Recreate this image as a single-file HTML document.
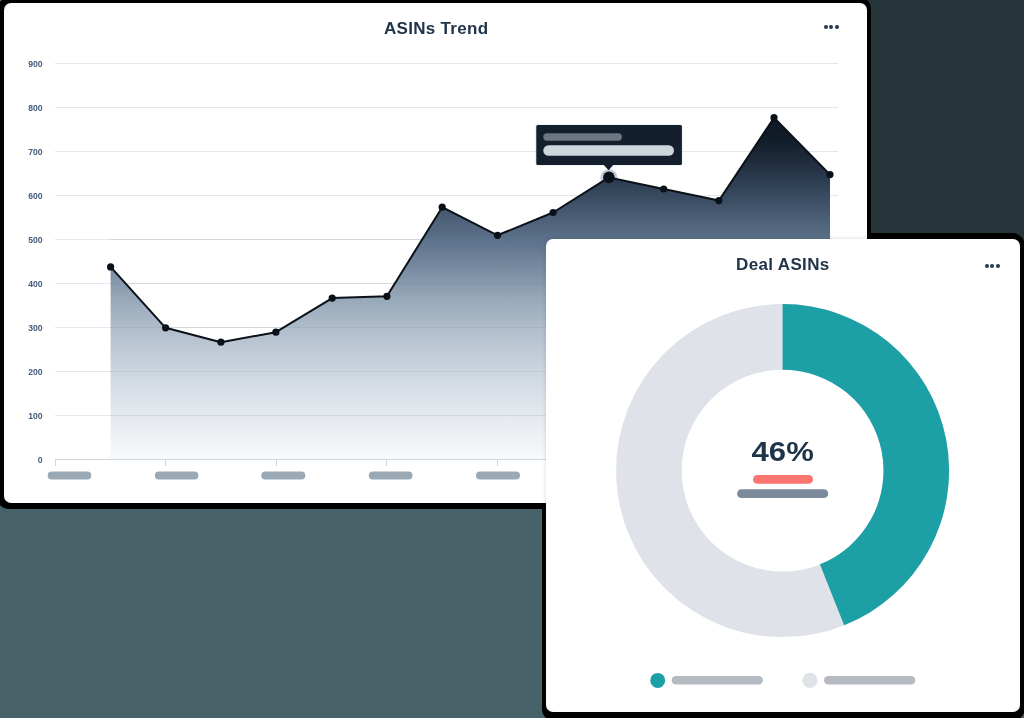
<!DOCTYPE html>
<html>
<head>
<meta charset="utf-8">
<style>
html,body{margin:0;padding:0;}
body{width:1024px;height:718px;position:relative;overflow:hidden;-webkit-font-smoothing:antialiased;background:rgb(71,98,105);font-family:"Liberation Sans",sans-serif;}
.abs{position:absolute;}
#bgA{left:866px;top:0;width:158px;height:252px;background:rgb(38,53,57);}
.sh{background:#000;}
#sh1{left:-2px;top:-2px;width:873px;height:511px;border-radius:10px;}
#sh2{left:542px;top:233px;width:483px;height:488px;border-radius:11px 13px 13px 12px;}
#card1{left:4px;top:3px;width:863px;height:499.5px;background:#fff;border-radius:7px;}
#card2{left:546px;top:239px;width:473.5px;height:472.75px;background:#fff;border-radius:7px;box-shadow:0 0 4px rgba(20,30,45,0.18);}
.title{font-weight:bold;color:#21344a;font-size:17px;white-space:nowrap;}
.dots{display:flex;gap:1.7px;}
.dots i{display:block;width:3.8px;height:3.8px;border-radius:50%;background:#263a50;}
svg{position:absolute;left:0;top:0;will-change:transform;}
.title,.dots{will-change:transform;}
.ylab{font-size:8.6px;fill:#415c7a;font-weight:bold;}
.pill{position:absolute;border-radius:5px;}
</style>
</head>
<body>
<div id="bgA" class="abs"></div>
<div id="sh1" class="abs sh"></div>
<div id="sh2" class="abs sh"></div>
<div id="card1" class="abs"></div>

<div class="abs title" style="left:383.5px;top:18.8px;letter-spacing:0.3px;">ASINs Trend</div>
<div class="abs dots" style="left:823.8px;top:25.1px;"><i></i><i></i><i></i></div>

<svg width="1024" height="718" viewBox="0 0 1024 718">
  <defs>
    <linearGradient id="g" gradientUnits="userSpaceOnUse" x1="0" y1="117" x2="0" y2="459">
      <stop offset="0" stop-color="rgb(15, 24, 35)"/>
      <stop offset="0.067" stop-color="rgb(18, 29, 42)"/>
      <stop offset="0.126" stop-color="rgb(30, 43, 59)"/>
      <stop offset="0.184" stop-color="rgb(44, 61, 80)"/>
      <stop offset="0.243" stop-color="rgb(60, 78, 100)"/>
      <stop offset="0.301" stop-color="rgb(77, 97, 121)"/>
      <stop offset="0.36" stop-color="rgb(92, 113, 138)"/>
      <stop offset="0.462" stop-color="rgb(126, 145, 166)"/>
      <stop offset="0.535" stop-color="rgb(152, 169, 186)"/>
      <stop offset="0.623" stop-color="rgb(177, 190, 204)"/>
      <stop offset="0.74" stop-color="rgb(204, 213, 222)"/>
      <stop offset="0.857" stop-color="rgb(226, 231, 237)"/>
      <stop offset="0.974" stop-color="rgb(244, 246, 248)"/>
      <stop offset="1" stop-color="rgb(248, 249, 250)"/>
    </linearGradient>
  </defs>
  <!-- grid -->
  <g stroke="#e3e8ee" stroke-width="1">
    <line x1="55" y1="63.5" x2="838" y2="63.5"/>
    <line x1="55" y1="107.5" x2="838" y2="107.5"/>
    <line x1="55" y1="151.5" x2="838" y2="151.5"/>
    <line x1="55" y1="195.5" x2="838" y2="195.5"/>
    <line x1="55" y1="239.5" x2="838" y2="239.5"/>
    <line x1="55" y1="283.5" x2="838" y2="283.5"/>
    <line x1="55" y1="327.5" x2="838" y2="327.5"/>
    <line x1="55" y1="371.5" x2="838" y2="371.5"/>
    <line x1="55" y1="415.5" x2="838" y2="415.5"/>
  </g>
  <g class="ylab" text-anchor="end">
    <text x="42.5" y="66.5">900</text>
    <text x="42.5" y="110.5">800</text>
    <text x="42.5" y="154.5">700</text>
    <text x="42.5" y="198.5">600</text>
    <text x="42.5" y="242.5">500</text>
    <text x="42.5" y="286.5">400</text>
    <text x="42.5" y="330.5">300</text>
    <text x="42.5" y="374.5">200</text>
    <text x="42.5" y="418.5">100</text>
    <text x="42.5" y="462.5">0</text>
  </g>
  <circle cx="608.9" cy="177.6" r="8.6" fill="#b9c6d3" opacity="0.9"/>
  <!-- area -->
  <path fill="url(#g)" d="M110.6,459.5 L110.6,266.9 L165.6,327.8 L220.9,342.2 L275.9,332.2 L332.2,298.1 L386.9,296.3 L442.2,207.2 L497.5,235.3 L553.1,212.5 L608.9,177.4 L663.7,189 L718.9,200.6 L774,117.7 L830,174.6 L830,459.5 Z"/>
  <!-- grid lines over area (faint) -->
  <g stroke="rgb(110,130,150)" stroke-opacity="0.16" stroke-width="1">
    <line x1="110" y1="239.5" x2="830" y2="239.5"/>
    <line x1="110" y1="283.5" x2="830" y2="283.5"/>
    <line x1="110" y1="327.5" x2="830" y2="327.5"/>
    <line x1="110" y1="371.5" x2="830" y2="371.5"/>
    <line x1="110" y1="415.5" x2="830" y2="415.5"/>
  </g>
  <!-- axis -->
  <line x1="55" y1="459.5" x2="838" y2="459.5" stroke="#cdd7e1" stroke-width="1"/>
  <g stroke="#cdd7e1" stroke-width="1">
    <line x1="55.5" y1="459" x2="55.5" y2="466"/>
    <line x1="165.5" y1="459" x2="165.5" y2="466"/>
    <line x1="276.5" y1="459" x2="276.5" y2="466"/>
    <line x1="386.5" y1="459" x2="386.5" y2="466"/>
    <line x1="497.5" y1="459" x2="497.5" y2="466"/>
  </g>
  <!-- x pills -->
  <g fill="#9aa9b6">
    <rect x="47.7" y="471.5" width="43.6" height="8" rx="4"/>
    <rect x="154.8" y="471.5" width="43.6" height="8" rx="4"/>
    <rect x="261.3" y="471.5" width="44" height="8" rx="4"/>
    <rect x="368.8" y="471.5" width="43.7" height="8" rx="4"/>
    <rect x="476" y="471.5" width="44" height="8" rx="4"/>
  </g>
  <!-- line -->
  <polyline fill="none" stroke="#0b1119" stroke-width="2" stroke-linejoin="round" points="110.6,266.9 165.6,327.8 220.9,342.2 275.9,332.2 332.2,298.1 386.9,296.3 442.2,207.2 497.5,235.3 553.1,212.5 608.9,177.4 663.7,189 718.9,200.6 774,117.7 830,174.6"/>
  <g fill="#0b1119">
    <circle cx="110.6" cy="266.9" r="3.6"/>
    <circle cx="165.6" cy="327.8" r="3.6"/>
    <circle cx="220.9" cy="342.2" r="3.6"/>
    <circle cx="275.9" cy="332.2" r="3.6"/>
    <circle cx="332.2" cy="298.1" r="3.6"/>
    <circle cx="386.9" cy="296.3" r="3.6"/>
    <circle cx="442.2" cy="207.2" r="3.6"/>
    <circle cx="497.5" cy="235.3" r="3.6"/>
    <circle cx="553.1" cy="212.5" r="3.6"/>
    <circle cx="663.7" cy="189" r="3.6"/>
    <circle cx="718.9" cy="200.6" r="3.6"/>
    <circle cx="774" cy="117.7" r="3.6"/>
    <circle cx="830" cy="174.6" r="3.6"/>
  </g>
  <circle cx="608.9" cy="177.4" r="5.8" fill="#0b1119"/>
  <!-- tooltip -->
  <g>
    <rect x="535.5" y="124.5" width="147" height="41" rx="2" fill="#a9b8c6" opacity="0.35"/>
    <rect x="536.3" y="125" width="145.6" height="39.9" rx="1.5" fill="#131f2c"/>
    <path d="M603.4,164.5 L613.6,164.5 L608.6,170.3 Z" fill="#131f2c"/>
    <rect x="543.3" y="133.3" width="78.6" height="7.4" rx="3.7" fill="#6b7681"/>
    <rect x="543.3" y="145.3" width="130.7" height="10.5" rx="5.25" fill="#cdd5dd"/>
  </g>
</svg>

<div id="card2" class="abs">
  <div class="abs title" style="left:189.6px;top:16px;letter-spacing:0.35px;">Deal ASINs</div>
  <div class="abs dots" style="left:438.8px;top:24.8px;"><i></i><i></i><i></i></div>
</div>

<svg width="1024" height="718" viewBox="0 0 1024 718" style="pointer-events:none">
  <circle cx="782.6" cy="470.6" r="133.7" fill="none" stroke="#dfe2e9" stroke-width="65.6"/>
  <path fill="#1ca0a6" d="M782.6,304.1 A166.5,166.5 0 0 1 844.16,625.3 L819.91,564.35 A100.9,100.9 0 0 0 782.6,369.7 Z"/>
  <text x="751.6" y="461" textLength="62.2" lengthAdjust="spacingAndGlyphs" font-size="27.6" font-weight="bold" fill="#1f3349" font-family="Liberation Sans">46%</text>
  <rect x="753" y="475.1" width="60" height="8.7" rx="4.35" fill="#fb7670"/>
  <rect x="737.1" y="489.3" width="91.1" height="8.8" rx="4.4" fill="#7b8a9a"/>
  <circle cx="657.7" cy="680.4" r="7.5" fill="#1ca0a6"/>
  <rect x="671.7" y="676.1" width="91.2" height="8.5" rx="4.25" fill="#b4b9c2"/>
  <circle cx="810" cy="680.4" r="7.6" fill="#dfe2e9"/>
  <rect x="824" y="676.1" width="91.3" height="8.5" rx="4.25" fill="#b4b9c2"/>
</svg>

</body>
</html>
